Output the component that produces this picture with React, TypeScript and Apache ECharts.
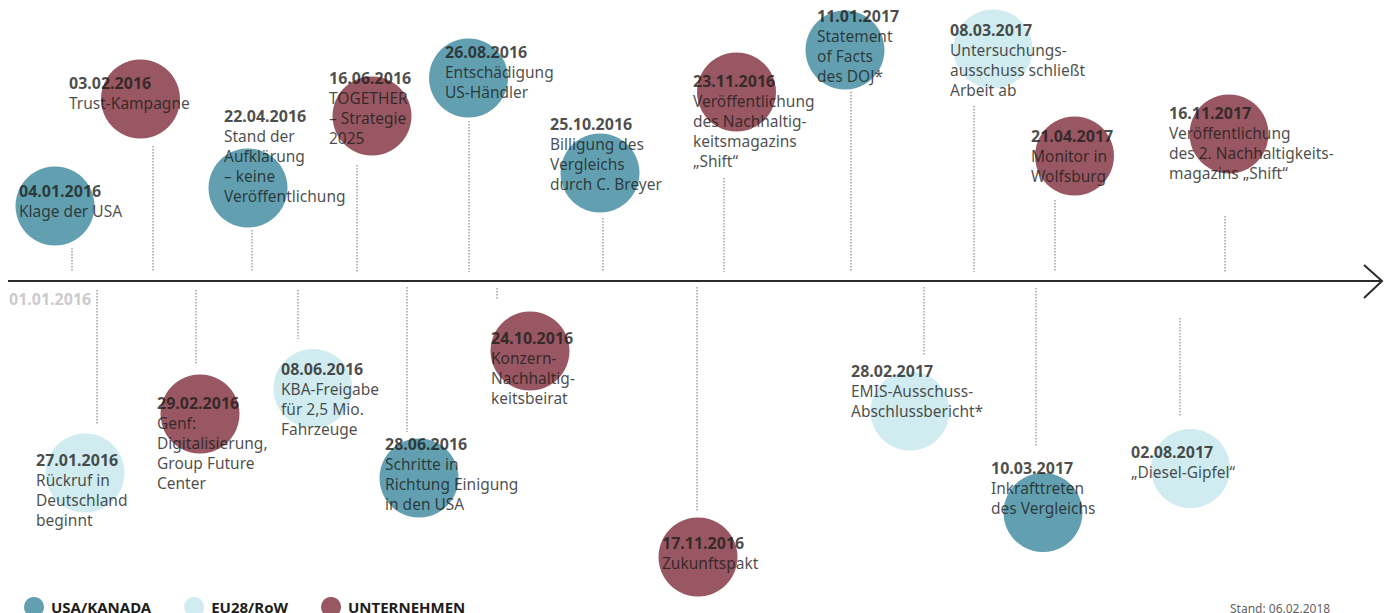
import React, { useEffect, useRef } from "react";
import * as echarts from "echarts";

// ---- data ----
const groupNames = ["USA/KANADA", "EU28/RoW", "UNTERNEHMEN"];
const dates = [
  "04.01.2016", "03.02.2016", "22.04.2016", "16.06.2016", "26.08.2016", "25.10.2016",
  "23.11.2016", "11.01.2017", "08.03.2017", "21.04.2017", "16.11.2017",
  "27.01.2016", "29.02.2016", "08.06.2016", "28.06.2016", "24.10.2016", "17.11.2016",
  "28.02.2017", "10.03.2017", "02.08.2017",
];
const descriptions = [
  "Klage der USA",
  "Trust-Kampagne",
  "Stand der\nAufklärung\n– keine\nVeröffentlichung",
  "TOGETHER\n– Strategie\n2025",
  "Entschädigung\nUS-Händler",
  "Billigung des\nVergleichs\ndurch C. Breyer",
  "Veröffentlichung\ndes Nachhaltig-\nkeitsmagazins\n„Shift“",
  "Statement\nof Facts\ndes DOJ*",
  "Untersuchungs-\nausschuss schließt\nArbeit ab",
  "Monitor in\nWolfsburg",
  "Veröffentlichung\ndes 2. Nachhaltigkeits-\nmagazins „Shift“",
  "Rückruf in\nDeutschland\nbeginnt",
  "Genf:\nDigitalisierung,\nGroup Future\nCenter",
  "KBA-Freigabe\nfür 2,5 Mio.\nFahrzeuge",
  "Schritte in\nRichtung Einigung\nin den USA",
  "Konzern-\nNachhaltig-\nkeitsbeirat",
  "Zukunftspakt",
  "EMIS-Ausschuss-\nAbschlussbericht*",
  "Inkrafttreten\ndes Vergleichs",
  "„Diesel-Gipfel“",
];
// 0 = USA/KANADA, 1 = EU28/RoW, 2 = UNTERNEHMEN
const eventGroup = [0, 2, 0, 2, 0, 0, 2, 0, 1, 2, 2, 1, 2, 1, 0, 2, 2, 1, 0, 1];
const startLabel = "01.01.2016";
const standLabel = "Stand: 06.02.2018";

// ---- layout (timeline slots) ----
const circleX = [55, 140.5, 248, 372, 468.5, 600, 736.5, 845, 993, 1074.5, 1229, 85, 200, 313, 419, 530, 698, 910, 1043, 1190.5];
const circleY = [206, 99, 188, 116, 78, 173, 92, 50, 49, 156, 134, 473, 414, 388.5, 478, 351, 557, 411, 512.5, 468.5];
const labelX = [19, 69, 224, 329, 445, 550, 693, 817, 950, 1031, 1169, 36, 157, 281, 385, 491, 662, 851, 991, 1131];
const labelY = [191, 83, 116, 78, 52, 124, 81, 16, 30, 136, 113, 460, 403, 369, 444, 338, 543, 371, 468, 452];
const stemX = [72, 153, 252, 357, 469, 603, 724, 851, 974, 1055, 1225, 97, 196, 298, 407, 497, 697, 924, 1036, 1180];
const stemY1 = [248, 146, 230, 165, 121, 218, 178, 92, 106, 200, 216, 290, 290, 290, 287, 288, 287, 287, 288, 318];
const stemY2 = [272, 272, 272, 272, 272, 272, 272, 272, 272, 272, 272, 425, 365, 339, 432, 300, 512, 356, 446, 417];
const axisStart = [8, 281];
const axisEnd = [1381, 281];
const arrowHead = [[1364, 265], [1382, 281], [1364, 298]];

const colors = ["#62a0b1", "#d0ecf0", "#985762"];
const FONT = "Noto Sans";

export default function App() {
  const ref = useRef<HTMLDivElement>(null);
  useEffect(() => {
    if (!ref.current) return;
    const chart = echarts.init(ref.current, undefined, { renderer: "svg" });

    const circleSeries = groupNames.map((name, g) => ({
      name,
      type: "scatter",
      silent: true,
      symbol: "circle",
      symbolSize: 79,
      itemStyle: { color: colors[g], opacity: 1 },
      z: 2,
      data: circleX
        .map((x, i) => ({ i, v: [x, circleY[i]] }))
        .filter((d) => eventGroup[d.i] === g)
        .map((d) => d.v),
    }));

    const option: any = {
      animation: false,
      grid: { left: 0, right: 0, top: 0, bottom: 0 },
      xAxis: { type: "value", min: 0, max: 1391, show: false },
      yAxis: { type: "value", min: 0, max: 613, inverse: true, show: false },
      legend: {
        data: groupNames,
        left: 19,
        top: 592,
        icon: "circle",
        itemWidth: 20,
        itemHeight: 20,
        itemGap: 33,
        selectedMode: false,
        textStyle: {
          fontFamily: FONT,
          fontWeight: "bold",
          fontSize: 15,
          color: "#1d1d1b",
          padding: [0, 0, 0, 2],
        },
      },
      series: [
        {
          type: "lines",
          coordinateSystem: "cartesian2d",
          silent: true,
          z: 1,
          lineStyle: { color: "#a3a3a3", width: 1.5, type: [1.5, 1.5], opacity: 1 },
          data: stemX.map((x, i) => ({ coords: [[x, stemY1[i]], [x, stemY2[i]]] })),
        },
        {
          type: "lines",
          coordinateSystem: "cartesian2d",
          polyline: true,
          silent: true,
          z: 3,
          lineStyle: { color: "#2b2b2b", width: 2, opacity: 1 },
          data: [{ coords: [axisStart, axisEnd] }, { coords: arrowHead }],
        },
        ...circleSeries,
        {
          type: "scatter",
          silent: true,
          symbolSize: 0,
          z: 5,
          data: labelX.map((x, i) => [x, labelY[i] - 10, i]),
          label: {
            show: true,
            position: [0, 0],
            align: "left",
            verticalAlign: "top",
            formatter: (p: any) => {
              const i = p.data[2];
              return (
                `{d|${dates[i]}}\n` +
                descriptions[i]
                  .split("\n")
                  .map((l) => `{t|${l}}`)
                  .join("\n")
              );
            },
            rich: {
              d: { fontFamily: FONT, fontWeight: "bold", fontSize: 16, lineHeight: 20, color: "#1d1d1b" },
              t: { fontFamily: FONT, fontSize: 15.5, lineHeight: 20, color: "#1d1d1b" },
            },
          },
        },
        {
          type: "scatter",
          silent: true,
          symbolSize: 0,
          z: 5,
          data: [
            { value: [9, 289], label: { formatter: startLabel, fontWeight: "bold", fontSize: 16, color: "#bdbdbd", lineHeight: 20 } },
            { value: [1230, 601], label: { formatter: standLabel, fontSize: 12, color: "#333333", lineHeight: 14 } },
          ],
          label: {
            show: true,
            position: [0, 0],
            align: "left",
            verticalAlign: "top",
            fontFamily: FONT,
          },
        },
      ],
    };
    chart.setOption(option);
    return () => chart.dispose();
  }, []);
  return (
    <div
      ref={ref}
      style={{ position: "absolute", left: 0, top: 0, width: 1391, height: 613, background: "#ffffff" }}
    />
  );
}
